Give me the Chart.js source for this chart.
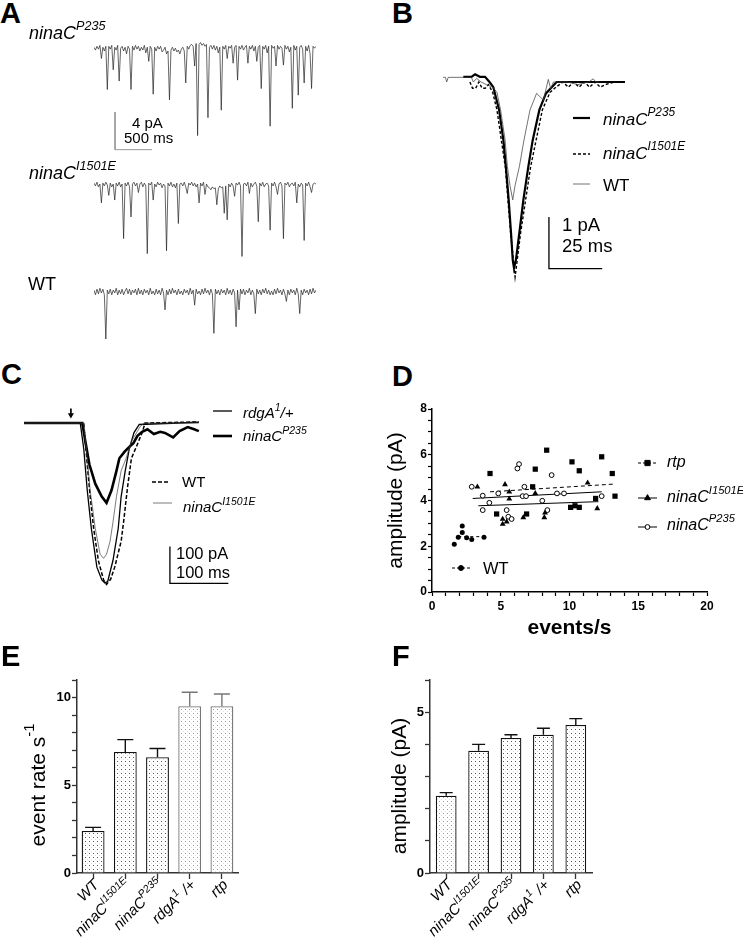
<!DOCTYPE html>
<html>
<head>
<meta charset="utf-8">
<script src="https://cdn.jsdelivr.net/npm/chart.js@4.4.1/dist/chart.umd.min.js"></script>
<style>
  body { margin: 0; background: #fff; }
  #fig { position: relative; width: 743px; height: 949px; overflow: hidden; font-family: 'Liberation Sans', Arial, sans-serif; }
  #fig canvas { position: absolute; }
  .t { position: absolute; white-space: nowrap; line-height: 1; color: #000; }
  .t sup { font-size: 0.7em; vertical-align: baseline; position: relative; top: -0.72em; }
  .b { font-weight: bold; }
  .i { font-style: italic; }
</style>
</head>
<body>
<div id="fig"></div>
<script>
// ---------------- panel A : spontaneous bumps, one sample every 20 ms (pA) ----------------
var sampleMs = 20;
var traceP235 = [
  0.1,-0.2,0.2,-0.1,0.3,-1.1,0.1,-0.3,0.2,-4.4,
  0.2,-0.1,0.3,-2.3,0.1,-0.2,0.3,-3.5,0.0,0.2,
  -0.3,0.1,-0.6,0.2,-0.1,-4.4,0.2,-0.2,0.3,-0.1,
  0.2,-0.3,0.1,-0.2,0.3,-0.5,0.1,-1.4,0.2,-0.1,
  -4.9,0.1,-0.3,0.2,-0.1,0.2,-0.4,-0.2,0.1,-0.6,
  -0.3,-5.5,-0.2,0.1,-0.3,0.0,-0.4,-0.2,-0.6,-0.1,
  0.1,-0.3,-3.7,0.2,-0.1,0.3,0.4,0.2,-1.9,0.5,
  -9.3,0.4,0.6,0.3,0.5,0.2,0.4,-7.4,0.1,0.3,
  -0.1,0.3,-0.2,0.2,-0.5,0.1,-6.6,0.2,-0.1,0.3,
  -1.1,0.2,0.0,0.3,-1.6,0.1,0.3,-3.4,0.2,-0.1,
  0.3,-0.2,0.1,0.3,-1.6,0.2,-0.1,0.3,-0.3,0.2,
  -1.4,0.1,0.3,-4.3,0.2,-0.1,0.3,-0.5,0.2,-8.3,
  0.3,0.0,0.2,-1.9,0.3,-0.1,0.2,0.0,-1.8,0.3,
  -0.1,0.2,-0.4,0.1,-6.4,0.3,-0.2,0.2,-5.0,0.1,
  0.3,-0.1,-3.7,0.2,-0.3,0.3,-0.6,-4.3,0.2,0.0,
  0.2];
var traceI1501E = [
  0.2,-0.1,0.3,-0.2,0.1,-1.9,0.2,-0.1,0.3,0.0,
  -1.1,0.2,-0.2,0.1,-1.6,0.2,-0.1,0.3,-0.2,0.1,
  -5.7,0.2,-0.1,0.3,-0.2,-3.4,0.1,0.3,-0.1,0.2,
  -0.8,0.1,0.3,-0.2,0.2,-0.1,-7.3,0.2,0.0,0.3,
  -1.6,0.1,-0.2,0.3,0.0,0.2,-0.3,0.1,-0.1,-7.0,
  0.2,-0.1,0.3,-0.2,0.1,-0.3,0.2,-4.1,0.1,0.2,
  -0.1,0.3,-0.2,-0.9,0.2,0.0,0.3,-0.1,0.2,-0.2,
  0.1,-1.9,0.2,-0.1,0.3,-1.0,0.1,-0.2,-0.3,-0.5,
  -0.2,-0.4,-0.3,-2.1,-0.4,-0.1,-0.3,-0.2,-3.0,-0.1,
  -3.7,0.1,-0.2,0.2,-0.1,-1.2,0.2,0.0,0.3,-0.1,
  -7.6,0.1,0.2,-0.1,0.3,-0.9,0.2,-0.2,0.1,0.3,
  -0.1,-3.9,0.2,-0.1,0.3,-0.2,0.1,0.2,-0.1,-4.8,
  0.2,-0.1,0.3,-0.2,-1.0,0.1,0.3,-0.1,-5.7,0.2,
  0.0,0.3,-0.2,0.1,0.2,-0.1,0.3,-1.9,0.1,-0.2,
  0.2,0.0,-5.9,0.2,-0.1,0.3,-0.2,-0.8,0.1,0.2,
  0.1];
var traceWT = [
  0.2,-0.3,0.3,-0.2,0.4,-0.1,0.3,-0.3,-5.0,0.2,
  -0.2,0.3,-0.3,0.2,-0.1,0.4,-0.3,0.2,-0.2,0.3,
  -0.3,0.1,0.4,-0.2,0.3,-0.3,0.2,-0.1,0.3,-0.3,
  0.4,-0.2,0.2,-0.3,0.3,-0.1,0.2,-0.3,0.4,-0.2,
  0.1,-0.3,0.3,-0.2,0.2,-0.3,0.4,-0.1,-1.9,0.2,
  -0.3,0.3,-0.2,0.4,-0.1,0.2,-0.3,0.3,-0.2,0.1,
  -0.3,0.3,-0.1,0.2,-0.3,0.4,-0.2,0.2,-1.4,0.3,
  -0.2,0.1,-0.3,0.3,-0.2,0.4,-0.1,0.2,-0.3,0.3,
  -0.2,-4.4,0.3,-0.2,0.2,-0.3,0.3,-0.1,0.2,-0.3,
  0.4,-0.2,0.2,-0.3,0.3,-0.1,-3.7,0.2,-1.9,0.3,
  -0.2,0.3,-0.3,0.2,-0.1,0.4,-0.3,0.2,-0.2,-2.3,
  0.3,-0.2,0.2,-0.3,0.3,-0.1,0.4,-0.2,0.2,-0.3,
  0.1,-0.3,0.3,-0.2,0.4,-0.1,0.2,-0.3,0.3,-0.2,
  -1.0,0.2,-0.3,0.3,-0.1,0.2,-0.3,0.4,-0.2,-2.3,
  0.2,-0.3,0.3,-0.1,0.2,-0.3,0.3,-0.2,0.4,-0.1,
  0.2];
var scaleA = [500, 4];          // ms, pA

// ---------------- panel B : averaged bumps (ms from peak, pA) ----------------
var bTimeP235 = [-23.8,-20,-18.3,-16,-13.6,-11.5,-9.7,-7.0,-5.0,-3.8,-2.5,-1.4,-0.6,0,0.9,2.5,4.4,6.7,8.8,11.9,15.0,17.7,20.0,52.1];
var bP235     = [0.1,0.1,0.15,0.1,0.1,0.0,-0.1,-0.54,-1.12,-1.64,-2.28,-2.92,-3.44,-3.6,-3.44,-2.92,-2.28,-1.64,-1.12,-0.54,-0.22,-0.1,0.0,0.0];
var bTimeI1501E = [-20.7,-19.5,-18,-16.5,-15,-13.5,-12,-10,-8,-4.1,-1.6,0.5,3.1,7.8,13.3,16.9,19.7,23,25.5,28,30.5,33,35.5,38,40.5,43,47,52];
var bI1501E     = [0,-0.12,-0.12,0,-0.12,-0.12,-0.05,-0.2,-0.54,-1.64,-2.92,-3.77,-2.92,-1.64,-0.54,-0.2,-0.1,0,-0.1,0,-0.1,0,-0.1,0,-0.1,-0.05,0,0];
var bTimeWT = [-33.3,-32.2,-31.6,-30.9,-20,-19.1,-17.5,-15.5,-13,-10,-8,-6.3,-4.2,-3.1,-1.9,-0.6,0.5,2.5,4.7,7.5,10.6,13.8,16.1,17.2,18.5,25,30,35,37.2,38.5,40];
var bWT     = [0.09,0.09,0,0.09,0.09,0,0.07,0,-0.05,-0.1,-0.2,-0.54,-1.12,-1.64,-2.0,-2.28,-2.0,-1.64,-1.12,-0.54,-0.22,-0.35,0.05,-0.13,0,0,-0.05,0,0.06,0,0];
var scaleB = [25, 1];           // ms, pA

// ---------------- panel C : light responses (ms from flash, pA) ----------------
var cTimeRdgA = [-80,0,16,22,28,35,44.5,53,58,63,72,81,86,93,100,108,117,219];
var cRdgA     = [0,0,0,-70,-183,-287,-392,-427,-435,-431,-374,-287,-200,-130,-70,-26,-4,2];
var cTimeP235 = [-80,0,19.5,25,31.7,41.7,52.8,61,69.5,78,83,92,100,107,114,122,131,142,153,161,175,186,200,211,219];
var cP235     = [0,0,0,-52,-113,-165,-200,-217,-183,-130,-96,-78,-65,-55,-35,-24,-17,-30,-24,-27,-39,-22,-11,-17,-22];
var cTimeWT = [-80,0,22,28,33,39,47,56,61,68,75,86,90.5,97,103.6,114,122,127,219];
var cWT     = [0,0,0,-113,-200,-287,-374,-427,-439,-425,-392,-322,-265,-174,-96,-57,-26,0,3];
var cTimeI1501E = [-80,0,22,28,33,41.7,50,56,61,67,72,78,86,94.5,103,114,119,125,219];
var cI1501E     = [0,0,0,-96,-183,-287,-357,-368,-357,-322,-270,-200,-130,-96,-52,-22,-9,0,0];
var scaleC = [100, 100];        // ms, pA

// ---------------- panel D : amplitude vs rate per cell ----------------
var rtpRate = [4.22,4.70,6.88,7.32,7.51,8.34,10.08,10.18,10.40,10.71,10.71,11.90,12.34,13.11,13.31];
var rtpAmp  = [5.18,3.41,3.41,4.60,5.37,6.20,3.70,5.69,3.77,5.30,3.70,4.09,5.91,5.18,4.19];
var i1501eRate = [3.30,5.14,5.14,5.31,5.43,5.62,5.62,6.64,7.51,8.17,8.22,11.32,12.02];
var i1501eAmp  = [4.60,3.19,2.97,4.70,3.07,4.38,4.07,3.26,4.31,3.26,3.46,4.77,3.65];
var p235Rate = [2.89,3.69,3.69,4.17,4.82,5.43,5.55,5.79,6.21,6.33,6.59,6.72,6.84,8.02,8.39,8.70,9.09,9.60,12.34];
var p235Amp  = [4.60,4.21,3.58,3.90,4.31,3.58,3.29,3.19,5.40,5.59,4.19,4.60,4.19,3.99,3.58,5.11,4.31,4.31,4.19];
var wtRate = [1.62,1.91,2.20,2.20,2.52,2.89,3.78];
var wtAmp  = [2.09,2.39,2.88,2.60,2.37,2.30,2.39];
// regression lines (end points)
var fitRtpRate = [4.22,13.31],    fitRtpAmp = [4.38,4.72];
var fitP235Rate = [2.96,12.34],   fitP235Amp = [4.09,4.38];
var fitI1501ERate = [3.37,12.10], fitI1501EAmp = [3.77,3.95];
var fitWtRate = [1.91,3.78],      fitWtAmp = [2.42,2.42];

// ---------------- panels E, F : means +/- sem ----------------
var genotypes = ['WT', 'ninaC^{I1501E}', 'ninaC^{P235}', 'rdgA^{1} /+', 'rtp'];
var rateMean = [2.4, 6.9, 6.6, 9.5, 9.5];
var rateSem  = [0.2, 0.7, 0.5, 0.8, 0.7];
var ampMean  = [2.4, 3.8, 4.2, 4.3, 4.6];
var ampSem   = [0.1, 0.2, 0.1, 0.2, 0.2];

// ---------------- helpers ----------------
var FONT = "'Liberation Sans', Arial, sans-serif";
var fig = document.getElementById('fig');

Chart.defaults.font.family = FONT;
Chart.defaults.color = '#000';
Chart.defaults.animation = false;
Chart.defaults.responsive = false;
Chart.defaults.events = [];
Chart.defaults.plugins.legend.display = false;
Chart.defaults.plugins.tooltip.enabled = false;

function pts(xs, ys) { return xs.map(function (x, i) { return {x: x, y: ys[i]}; }); }
function sampled(ys, step) { return ys.map(function (y, i) { return {x: i * step, y: y}; }); }
function scaleBar(x0, y0, size) { return [{x: x0, y: y0 + size[1]}, {x: x0, y: y0}, {x: x0 + size[0], y: y0}]; }

function line(data, color, width, dash) {
  return {data: data, borderColor: color, borderWidth: width, borderDash: dash || [], pointRadius: 0, fill: false, tension: 0};
}

function makeCanvas(box) {
  var c = document.createElement('canvas');
  c.width = box[2]; c.height = box[3];
  c.style.left = box[0] + 'px'; c.style.top = box[1] + 'px';
  c.style.width = box[2] + 'px'; c.style.height = box[3] + 'px';
  fig.appendChild(c);
  return c;
}

function parseSup(str) {
  var out = [], re = /\^\{([^}]*)\}/g, last = 0, m;
  while ((m = re.exec(str))) {
    if (m.index > last) out.push({t: str.slice(last, m.index), sup: false});
    out.push({t: m[1], sup: true});
    last = re.lastIndex;
  }
  if (last < str.length) out.push({t: str.slice(last), sup: false});
  return out;
}
function supHtml(str) { return str.replace(/\^\{([^}]*)\}/g, '<sup>$1</sup>'); }

function drawRich(ctx, str, x, y, size, italic, align) {
  var parts = parseSup(str), total = 0;
  parts.forEach(function (p) {
    p.font = (italic ? 'italic ' : '') + (p.sup ? size * 0.7 : size) + 'px ' + FONT;
    ctx.font = p.font; p.w = ctx.measureText(p.t).width; total += p.w;
  });
  var cx = align === 'right' ? x - total : x;
  ctx.fillStyle = '#000'; ctx.textAlign = 'left'; ctx.textBaseline = 'alphabetic';
  parts.forEach(function (p) {
    ctx.font = p.font;
    ctx.fillText(p.t, cx, p.sup ? y - size * 0.45 : y);
    cx += p.w;
  });
}

// legend line samples (page coordinates)
function swatches(left, top, items) {
  return {
    id: 'swatches',
    afterDraw: function (chart) {
      var ctx = chart.ctx;
      items.forEach(function (s) {
        var x1 = s.x1 - left, x2 = s.x2 - left, y = s.y - top;
        ctx.save();
        ctx.strokeStyle = s.color || '#000'; ctx.lineWidth = s.width; ctx.setLineDash(s.dash || []);
        ctx.beginPath(); ctx.moveTo(x1, y); ctx.lineTo(x2, y); ctx.stroke();
        ctx.restore();
        if (s.point) {
          ctx.save();
          ctx.fillStyle = s.point.fill; ctx.strokeStyle = '#000'; ctx.lineWidth = 1;
          Chart.helpers.drawPoint(ctx, {pointStyle: s.point.style, radius: s.point.radius, rotation: 0, borderWidth: 1}, (x1 + x2) / 2, y);
          ctx.restore();
        }
      });
    }
  };
}

function errorBars(sems, colors, cap) {
  return {
    id: 'errorBars',
    afterDatasetsDraw: function (chart) {
      var ctx = chart.ctx, ys = chart.scales.y, vals = chart.data.datasets[0].data;
      chart.getDatasetMeta(0).data.forEach(function (bar, i) {
        var yTop = ys.getPixelForValue(vals[i] + sems[i]);
        ctx.save();
        ctx.strokeStyle = colors[i]; ctx.lineWidth = 1.4;
        ctx.beginPath();
        ctx.moveTo(bar.x, bar.y); ctx.lineTo(bar.x, yTop);
        ctx.moveTo(bar.x - cap / 2, yTop); ctx.lineTo(bar.x + cap / 2, yTop);
        ctx.stroke();
        ctx.restore();
      });
    }
  };
}

function richTicks(size) {
  return {
    id: 'richTicks',
    afterDraw: function (chart) {
      var xs = chart.scales.x, ctx = chart.ctx;
      chart.data.labels.forEach(function (lab, i) {
        ctx.save();
        ctx.translate(xs.getPixelForTick(i) + 3, xs.top + 9);
        ctx.rotate(-Math.PI / 4);
        drawRich(ctx, lab, 0, size * 0.35, size, true, 'right');
        ctx.restore();
      });
    }
  };
}

function dotPattern(ctx, dark, light) {
  var tile = document.createElement('canvas');
  tile.width = 4; tile.height = 4;
  var g = tile.getContext('2d');
  g.fillStyle = '#fff'; g.fillRect(0, 0, 4, 4);
  g.fillStyle = dark; g.fillRect(1, 1, 1, 1);
  g.fillStyle = light; g.fillRect(3, 3, 1, 1);
  return ctx.createPattern(tile, 'repeat');
}

function traceChart(box, xr, yr, datasets, plugins) {
  return new Chart(makeCanvas(box), {
    type: 'line',
    data: {datasets: datasets},
    options: {
      layout: {padding: 0},
      scales: {
        x: {type: 'linear', display: false, min: xr[0], max: xr[1]},
        y: {type: 'linear', display: false, min: yr[0], max: yr[1]}
      }
    },
    plugins: plugins || []
  });
}

// ---------------- A ----------------
traceChart([94, 20, 222, 140], [0, 3000], [-11.9, 3], [
  line(sampled(traceP235, sampleMs), '#222', 0.7),
  line(scaleBar(284, -10.8, scaleA), '#999', 1)
]);
traceChart([94, 160, 222, 110], [0, 3000], [-9.04, 2.66], [
  line(sampled(traceI1501E, sampleMs), '#222', 0.7)
]);
traceChart([94, 270, 222, 80], [0, 3000], [-6.17, 2.34], [
  line(sampled(traceWT, sampleMs), '#222', 0.7)
]);

// ---------------- B ----------------
traceChart([430, 50, 300, 240], [-39.44, 101.4], [-4.023, 0.619], [
  line(pts(bTimeWT, bWT), '#444', 0.75),
  line(pts(bTimeI1501E, bI1501E), '#000', 1.4, [3, 2]),
  line(pts(bTimeP235, bP235), '#000', 2.2),
  line(scaleBar(16.4, -3.61, scaleB), '#000', 1.3)
], [swatches(430, 50, [
  {x1: 573, x2: 590, y: 118, width: 2.2},
  {x1: 573, x2: 590, y: 154, width: 1.4, dash: [3, 2]},
  {x1: 573, x2: 590, y: 184, width: 0.75, color: '#444'}
])]);

// ---------------- C ----------------
var arrow = line([{x: 0, y: 39}, {x: 0, y: 22}], '#000', 1);
arrow.pointRadius = [0, 3.5];
arrow.pointStyle = 'triangle';
arrow.pointRotation = 180;
arrow.pointBackgroundColor = '#000';
arrow.pointBorderWidth = 0;
traceChart([15, 395, 305, 200], [-88.8, 419.5], [-456.9, 65.3], [
  line(pts(cTimeI1501E, cI1501E), '#444', 0.7),
  line(pts(cTimeWT, cWT), '#000', 1.5, [4, 2]),
  line(pts(cTimeRdgA, cRdgA), '#000', 1.3),
  line(pts(cTimeP235, cP235), '#000', 2.6),
  line(scaleBar(169.5, -436, scaleC), '#000', 1.3),
  arrow
], [swatches(15, 395, [
  {x1: 213, x2: 232, y: 411, width: 1.3},
  {x1: 213, x2: 232, y: 436, width: 2.6},
  {x1: 152, x2: 170, y: 482, width: 1.5, dash: [4, 2]},
  {x1: 153, x2: 172, y: 503, width: 0.7, color: '#444'}
])]);

// ---------------- D ----------------
function fitLine(xs, ys, dash) {
  var d = line(pts(xs, ys), '#000', 1, dash);
  d.showLine = true;
  return d;
}
new Chart(makeCanvas([380, 395, 363, 250]), {
  type: 'scatter',
  data: {datasets: [
    {data: pts(wtRate, wtAmp), pointStyle: 'circle', pointRadius: 2.5, backgroundColor: '#000', borderColor: '#000', borderWidth: 0},
    {data: pts(rtpRate, rtpAmp), pointStyle: 'rect', pointRadius: 3.7, backgroundColor: '#000', borderColor: '#000', borderWidth: 0},
    {data: pts(i1501eRate, i1501eAmp), pointStyle: 'triangle', pointRadius: 3.4, backgroundColor: '#000', borderColor: '#000', borderWidth: 0},
    {data: pts(p235Rate, p235Amp), pointStyle: 'circle', pointRadius: 2.4, backgroundColor: '#fff', borderColor: '#000', borderWidth: 1},
    fitLine(fitRtpRate, fitRtpAmp, [4, 3]),
    fitLine(fitP235Rate, fitP235Amp),
    fitLine(fitI1501ERate, fitI1501EAmp),
    fitLine(fitWtRate, fitWtAmp, [3, 3])
  ]},
  options: {
    layout: {padding: {top: 14, right: 36, left: 0, bottom: 0}},
    scales: {
      x: {
        type: 'linear', min: 0, max: 20,
        afterFit: function (s) { s.height = 53; },
        ticks: {stepSize: 1, autoSkip: false, maxRotation: 0, padding: 3, font: {size: 12, weight: 'bold'},
                callback: function (v) { return v % 5 === 0 ? String(v) : ''; }},
        grid: {drawOnChartArea: false, tickLength: 4, color: '#000', tickWidth: 1.2},
        border: {color: '#000', width: 1.5},
        title: {display: true, text: 'events/s', font: {size: 21, weight: 'bold'}, padding: {top: 0, bottom: 4.4}}
      },
      y: {
        type: 'linear', min: 0, max: 8,
        afterFit: function (s) { s.width = 52; },
        ticks: {stepSize: 0.5, autoSkip: false, padding: 1, font: {size: 12, weight: 'bold'},
                callback: function (v) { return v % 2 === 0 ? String(v) : ''; }},
        grid: {drawOnChartArea: false, tickLength: 4, color: '#000', tickWidth: 1.2},
        border: {color: '#000', width: 1.5},
        title: {display: true, text: 'amplitude (pA)', font: {size: 21}, padding: {top: 3.4, bottom: 0}}
      }
    }
  },
  plugins: [swatches(380, 395, [
    {x1: 638, x2: 657, y: 463, width: 1, dash: [3, 2], point: {style: 'rect', radius: 3.7, fill: '#000'}},
    {x1: 638, x2: 657, y: 498, width: 1, point: {style: 'triangle', radius: 3.4, fill: '#000'}},
    {x1: 638, x2: 657, y: 527, width: 1, point: {style: 'circle', radius: 2.4, fill: '#fff'}},
    {x1: 452, x2: 470, y: 568, width: 1, dash: [3, 2], point: {style: 'circle', radius: 2.5, fill: '#000'}}
  ])]
});

// ---------------- E, F ----------------
function barPanel(box, area, yMax, means, sems, edges, dots, barPct, cap) {
  var c = makeCanvas(box), ctx = c.getContext('2d');
  var fills = dots.map(function (d) { return dotPattern(ctx, d[0], d[1]); });
  return new Chart(c, {
    type: 'bar',
    data: {labels: genotypes, datasets: [{data: means, backgroundColor: fills, borderColor: edges, borderWidth: 1.3,
                                         barPercentage: barPct, categoryPercentage: 1}]},
    options: {
      layout: {padding: {top: area[1], right: area[2], left: 0, bottom: 0}},
      scales: {
        x: {
          afterFit: function (s) { s.height = area[3]; },
          ticks: {display: false},
          grid: {offset: false, drawOnChartArea: false, tickLength: 6, color: '#333', tickWidth: 1.3},
          border: {color: '#333', width: 1.5}
        },
        y: {
          min: 0, max: yMax,
          afterFit: function (s) { s.width = area[0]; },
          ticks: {stepSize: 1, autoSkip: false, padding: 1, font: {size: 13, weight: 'bold'},
                  callback: function (v) { return v % 5 === 0 ? String(v) : ''; }},
          grid: {drawOnChartArea: false, tickLength: 5, color: '#333', tickWidth: 1.3},
          border: {color: '#333', width: 1.5}
        }
      }
    },
    plugins: [errorBars(sems, edges, cap), richTicks(15)]
  });
}

var darkDots = ['#555', '#ddd'], greyDots = ['#999', '#ddd'];
barPanel([0, 640, 260, 309], [77, 40, 22, 76], 11, rateMean, rateSem,
         ['#111', '#111', '#111', '#777', '#777'],
         [darkDots, darkDots, darkDots, greyDots, greyDots], 0.71, 16);
barPanel([370, 640, 250, 309], [60, 40, 28, 76], 6, ampMean, ampSem,
         ['#111', '#111', '#111', '#111', '#111'],
         [greyDots, darkDots, darkDots, darkDots, darkDots], 0.64, 13);

// ---------------- free text (baseline positions) ----------------
function addText(str, x, y, size, cls) {
  var d = document.createElement('div');
  d.className = 't ' + (cls || '');
  d.style.left = x + 'px';
  d.style.top = (y - 0.8465 * size) + 'px';
  d.style.fontSize = size + 'px';
  d.innerHTML = supHtml(str);
  fig.appendChild(d);
}
function addVertical(str, cx, cy, size) {
  var d = document.createElement('div');
  d.className = 't';
  d.style.left = cx + 'px'; d.style.top = cy + 'px';
  d.style.fontSize = size + 'px';
  d.style.transform = 'translate(-50%,-50%) rotate(-90deg)';
  d.innerHTML = supHtml(str);
  fig.appendChild(d);
}

[['A', 0, 24], ['B', 392, 24], ['C', 1, 385], ['D', 392, 387], ['E', 1, 667], ['F', 392, 667]]
  .forEach(function (l) { addText(l[0], l[1], l[2], 29, 'b'); });

addText('ninaC^{P235}', 29, 39, 18, 'i');
addText('ninaC^{I1501E}', 29, 179, 18, 'i');
addText('WT', 28, 290, 18);
addText('4 pA', 132, 128, 15);
addText('500 ms', 124, 143, 15);

addText('ninaC^{P235}', 603, 125, 17, 'i');
addText('ninaC^{I1501E}', 603, 159, 17, 'i');
addText('WT', 603, 191, 17);
addText('1 pA', 562, 232, 18.5);
addText('25 ms', 562, 253, 18.5);

addText('rdgA^{1}/+', 243, 418, 15, 'i');
addText('ninaC^{P235}', 243, 441, 15, 'i');
addText('WT', 182, 487, 15);
addText('ninaC^{I1501E}', 183, 512, 15, 'i');
addText('100 pA', 176, 559, 16.5);
addText('100 ms', 176, 578, 16.5);

addText('rtp', 667, 468, 16, 'i');
addText('ninaC^{I1501E}', 667, 503, 16, 'i');
addText('ninaC^{P235}', 667, 531, 16, 'i');
addText('WT', 483, 574, 16.5);

addVertical('event rate s^{-1}', 37, 785, 21);
addVertical('amplitude (pA)', 398, 786, 21);
</script>
</body>
</html>
